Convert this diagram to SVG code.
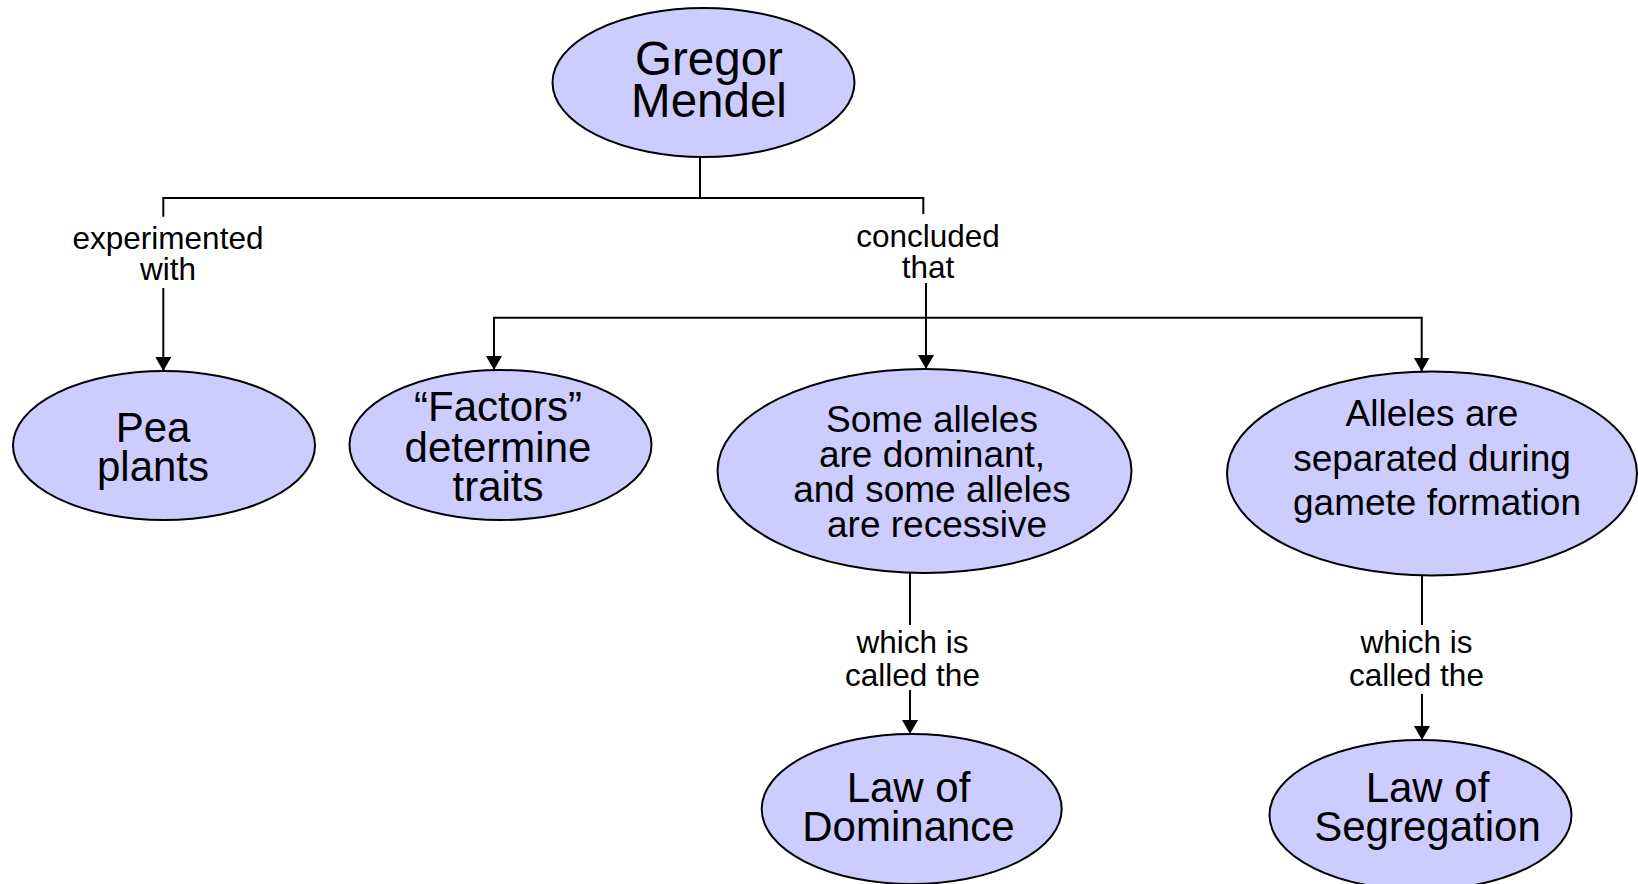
<svg xmlns="http://www.w3.org/2000/svg" width="1638" height="884" viewBox="0 0 1638 884">
<style>
.node ellipse{fill:#ccccff;stroke:#000;stroke-width:2}
.node text{font-family:"Liberation Sans",Arial,sans-serif;fill:#000;text-anchor:middle}
.big{font-size:42px}
.mid{font-size:37px}
.top{font-size:47.5px}
.conn path{fill:none;stroke:#000;stroke-width:2}
.lbl{font-family:"Liberation Sans",Arial,sans-serif;font-size:31.5px;fill:#000;text-anchor:middle}
</style>
<defs>
<marker id="arr" markerUnits="userSpaceOnUse" markerWidth="14" markerHeight="16" viewBox="0 0 14 16" refX="14" refY="8" orient="auto">
<path d="M0 0 L14 8 L0 16 Z" fill="#000"/>
</marker>
</defs>
<rect width="1638" height="884" fill="#fff"/>
<g id="connectors" class="conn">
<path d="M700 156.5 V198"/>
<path d="M163.3 216.7 V198 H923.3 V214"/>
<path d="M163.3 288 V371" marker-end="url(#arr)"/>
<path d="M926 283 V369" marker-end="url(#arr)"/>
<path d="M926 317.7 H494 V370" marker-end="url(#arr)"/>
<path d="M926 317.7 H1421.7 V371.5" marker-end="url(#arr)"/>
<path d="M910 573 V625"/>
<path d="M910 690 V734" marker-end="url(#arr)"/>
<path d="M1422 575.5 V625"/>
<path d="M1422 694 V740" marker-end="url(#arr)"/>
<text class="lbl" x="168" y="249">experimented</text>
<text class="lbl" x="168" y="280">with</text>
<text class="lbl" x="928" y="247">concluded</text>
<text class="lbl" x="928" y="278">that</text>
<text class="lbl" x="912.5" y="652.7">which is</text>
<text class="lbl" x="912.5" y="685.5">called the</text>
<text class="lbl" x="1416.5" y="652.7">which is</text>
<text class="lbl" x="1416.5" y="685.5">called the</text>
</g>
<g id="gregor" class="node">
<ellipse cx="703.5" cy="82.5" rx="151" ry="74.5"/>
<text class="top" x="709" y="75">Gregor</text>
<text class="top" x="709" y="117">Mendel</text>
</g>
<g id="pea" class="node">
<ellipse cx="164" cy="445.5" rx="151" ry="74.5"/>
<text class="big" x="153" y="442">Pea</text>
<text class="big" x="153" y="481">plants</text>
</g>
<g id="factors" class="node">
<ellipse cx="500.5" cy="445" rx="151" ry="75"/>
<text class="big" x="498" y="421">“Factors”</text>
<text class="big" x="498" y="461.5">determine</text>
<text class="big" x="498" y="500.5">traits</text>
</g>
<g id="dominant" class="node">
<ellipse cx="924.5" cy="471" rx="207" ry="102"/>
<text class="mid" x="932" y="432">Some alleles</text>
<text class="mid" x="932" y="467">are dominant,</text>
<text class="mid" x="932" y="502">and some alleles</text>
<text class="mid" x="937" y="537">are recessive</text>
</g>
<g id="separated" class="node">
<ellipse cx="1432" cy="473.5" rx="205" ry="102"/>
<text class="mid" x="1432" y="426">Alleles are</text>
<text class="mid" x="1432" y="470.5">separated during</text>
<text class="mid" x="1437" y="515">gamete formation</text>
</g>
<g id="lawdominance" class="node">
<ellipse cx="911.7" cy="809" rx="150" ry="75"/>
<text class="big" x="908.5" y="801.5">Law of</text>
<text class="big" x="908.5" y="840.5">Dominance</text>
</g>
<g id="lawsegregation" class="node">
<ellipse cx="1420.5" cy="815" rx="151" ry="75"/>
<text class="big" x="1427.5" y="801.5">Law of</text>
<text class="big" x="1427.5" y="840.5">Segregation</text>
</g>
</svg>
